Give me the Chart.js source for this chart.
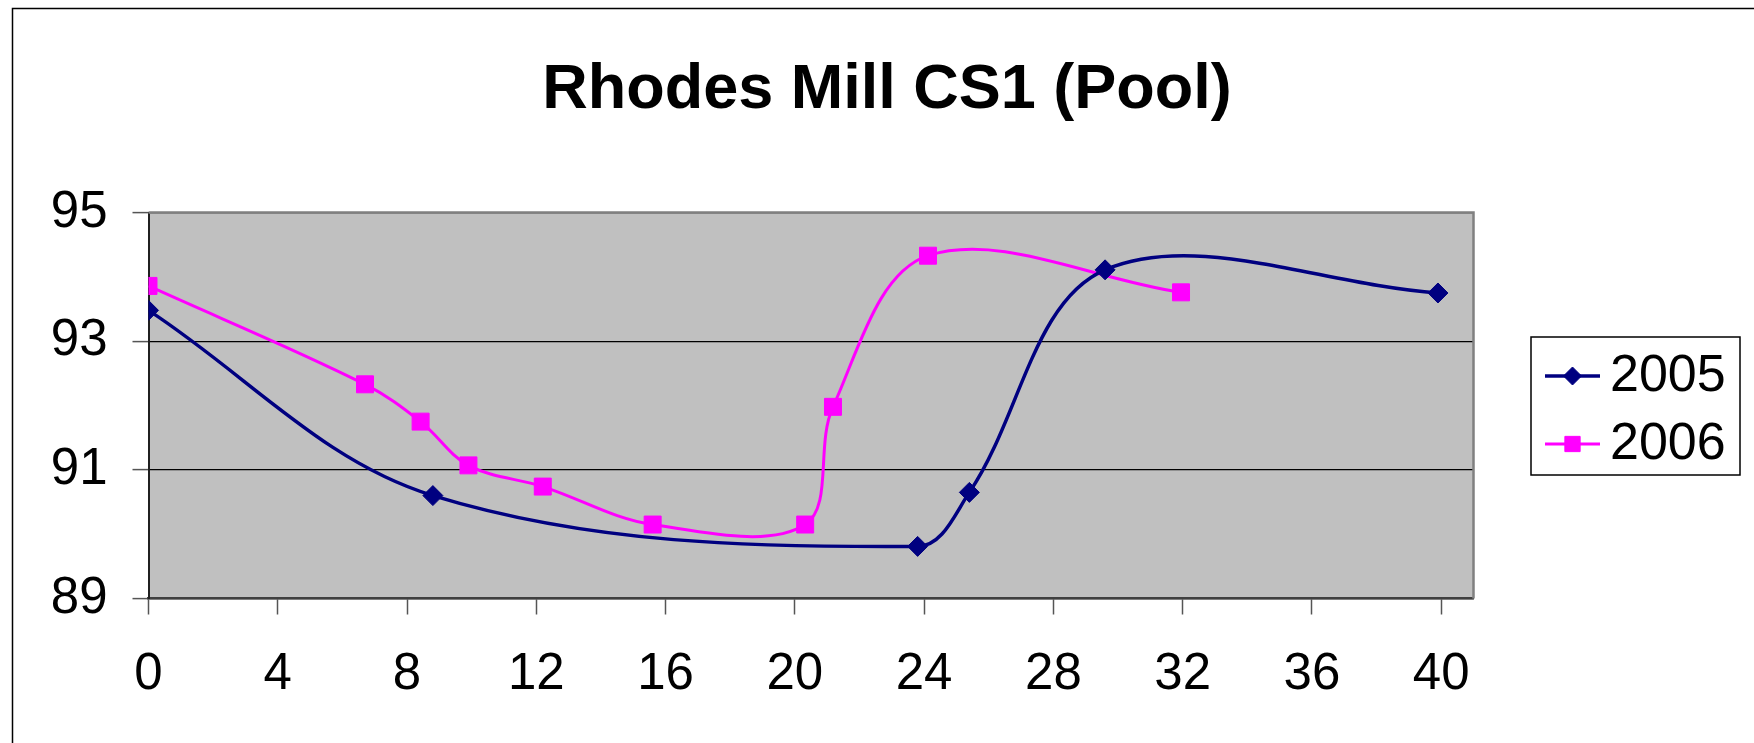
<!DOCTYPE html>
<html>
<head>
<meta charset="utf-8">
<title>Rhodes Mill CS1 (Pool)</title>
<script src="https://cdn.jsdelivr.net/npm/chart.js@4.4.1/dist/chart.umd.min.js"></script>
<style>
  html, body { margin: 0; padding: 0; background: #fff; }
  #wrap { position: relative; width: 1754px; height: 743px; }
</style>
</head>
<body>
<div id="wrap"><canvas id="poolChart" width="1754" height="743"></canvas></div>
<script>
// values
const chartTitle = 'Rhodes Mill CS1 (Pool)';
const seriesNames = ['2005', '2006'];
const x2005 = [0, 8.8, 23.8, 25.4, 29.6, 39.9];
const y2005 = [93.48, 90.6, 89.81, 90.65, 94.11, 93.75];
const x2006 = [0, 6.7, 8.42, 9.9, 12.2, 15.6, 20.32, 21.18, 24.12, 31.95];
const y2006 = [93.86, 92.33, 91.75, 91.07, 90.74, 90.15, 90.15, 91.98, 94.33, 93.76];
const xTicks = [0, 4, 8, 12, 16, 20, 24, 28, 32, 36, 40];
const yTicks = [89, 91, 93, 95];

const toPoints = (xs, ys) => xs.map((x, i) => ({ x: x, y: ys[i] }));
const FONT = '"Liberation Sans", Arial, sans-serif';

// grey plot area, outer frame, top/right plot edges
const frame = {
  id: 'frame',
  beforeDraw(chart) {
    const { ctx, chartArea: a } = chart;
    ctx.save();
    ctx.fillStyle = '#fff';
    ctx.fillRect(0, 0, chart.width, chart.height);
    ctx.strokeStyle = '#000';
    ctx.lineWidth = 1.5;
    ctx.strokeRect(12.5, 8.5, 3000, 3000);
    ctx.fillStyle = '#c0c0c0';
    ctx.fillRect(a.left, a.top, a.right - a.left, a.bottom - a.top);
    ctx.restore();
  },
  beforeDatasetsDraw(chart) {
    const { ctx, chartArea: a } = chart;
    ctx.save();
    ctx.strokeStyle = '#808080';
    ctx.lineWidth = 2.5;
    ctx.beginPath();
    ctx.moveTo(a.left, a.top);
    ctx.lineTo(a.right, a.top);
    ctx.lineTo(a.right, a.bottom);
    ctx.stroke();
    ctx.restore();
  }
};

// boxed legend on the right, like the spreadsheet one
const boxLegend = {
  id: 'boxLegend',
  afterDraw(chart) {
    const ctx = chart.ctx;
    ctx.save();
    ctx.fillStyle = '#fff';
    ctx.fillRect(1531, 337, 209, 138);
    ctx.strokeStyle = '#000';
    ctx.lineWidth = 1.5;
    ctx.strokeRect(1531, 337, 209, 138);
    chart.data.datasets.forEach((ds, i) => {
      const y = 376 + i * 68;
      ctx.strokeStyle = ds.borderColor;
      ctx.lineWidth = ds.borderWidth;
      ctx.beginPath();
      ctx.moveTo(1545, y);
      ctx.lineTo(1600, y);
      ctx.stroke();
      ctx.fillStyle = ds.pointBackgroundColor;
      ctx.strokeStyle = ds.pointBorderColor;
      ctx.lineWidth = 1;
      Chart.helpers.drawPoint(ctx, { pointStyle: ds.pointStyle, radius: ds.pointRadius * 0.9, borderWidth: 1, rotation: 0 }, 1572.5, y);
      ctx.fillStyle = '#000';
      ctx.font = '52px ' + FONT;
      ctx.textBaseline = 'middle';
      ctx.textAlign = 'left';
      ctx.fillText(ds.label, 1610, y + 1);
    });
    ctx.restore();
  }
};

const ctx = document.getElementById('poolChart').getContext('2d');
new Chart(ctx, {
  type: 'line',
  data: {
    datasets: [{
      label: seriesNames[0],
      data: toPoints(x2005, y2005),
      borderColor: '#000080',
      backgroundColor: '#000080',
      pointBackgroundColor: '#000080',
      pointBorderColor: '#000080',
      borderWidth: 3.5,
      pointStyle: 'rectRot',
      pointRadius: 10,
      pointBorderWidth: 1,
      tension: 0.35,
      fill: false
    }, {
      label: seriesNames[1],
      data: toPoints(x2006, y2006),
      borderColor: '#ff00ff',
      backgroundColor: '#ff00ff',
      pointBackgroundColor: '#ff00ff',
      pointBorderColor: '#ff00ff',
      borderWidth: 3,
      pointStyle: 'rect',
      pointRadius: 12,
      pointBorderWidth: 1,
      tension: 0.35,
      fill: false
    }]
  },
  options: {
    responsive: false,
    animation: false,
    events: [],
    layout: { padding: { left: 20, right: 0, top: 0, bottom: 0 } },
    plugins: {
      legend: { display: false },
      tooltip: { enabled: false },
      title: {
        display: true,
        text: chartTitle,
        color: '#000',
        font: { family: FONT, size: 63, weight: 'bold', lineHeight: 1.2 },
        padding: { top: 53, bottom: 84 }
      }
    },
    scales: {
      x: {
        type: 'linear',
        min: 0,
        max: 41,
        afterBuildTicks: s => { s.ticks = xTicks.map(v => ({ value: v })); },
        afterFit: s => { s.height = 144.5; },
        grid: { drawOnChartArea: false, drawTicks: true, tickLength: 16, tickColor: '#555', tickWidth: 1.5 },
        border: { display: true, color: '#404040', width: 2.5 },
        ticks: { color: '#000', font: { family: FONT, size: 51 }, padding: 30, maxRotation: 0, autoSkip: false }
      },
      y: {
        min: 89,
        max: 95,
        afterBuildTicks: s => { s.ticks = yTicks.map(v => ({ value: v })); },
        afterFit: s => { s.width = 128.5; },
        grid: { color: '#000', lineWidth: 1.2, drawTicks: true, tickLength: 16, tickColor: '#555', tickWidth: 1.5 },
        border: { display: true, color: '#202020', width: 2 },
        ticks: { color: '#000', font: { family: FONT, size: 51 }, padding: 25 }
      },
      // empty axis that only keeps room for the legend on the right
      yr: {
        position: 'right',
        afterFit: s => { s.width = 280.5; },
        grid: { display: false },
        border: { display: false },
        ticks: { display: false }
      }
    }
  },
  plugins: [frame, boxLegend]
});
</script>
</body>
</html>
